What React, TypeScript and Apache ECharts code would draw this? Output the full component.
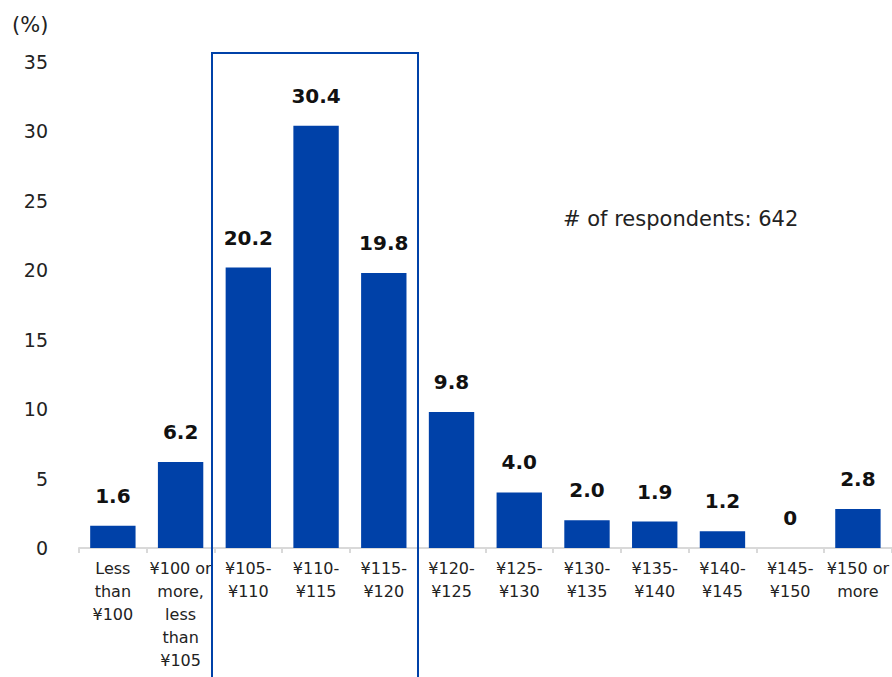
import React, { useEffect, useRef } from "react";
import * as echarts from "echarts";

const categories = [
  "Less\nthan\n¥100",
  "¥100 or\nmore,\nless\nthan\n¥105",
  "¥105-\n¥110",
  "¥110-\n¥115",
  "¥115-\n¥120",
  "¥120-\n¥125",
  "¥125-\n¥130",
  "¥130-\n¥135",
  "¥135-\n¥140",
  "¥140-\n¥145",
  "¥145-\n¥150",
  "¥150 or\nmore",
];
const values = [1.6, 6.2, 20.2, 30.4, 19.8, 9.8, 4.0, 2.0, 1.9, 1.2, 0, 2.8];
const valueLabels = ["1.6", "6.2", "20.2", "30.4", "19.8", "9.8", "4.0", "2.0", "1.9", "1.2", "0", "2.8"];
const yTicks = [0, 5, 10, 15, 20, 25, 30, 35];
const unitLabel = "(%)";
const noteText = "# of respondents: 642";

const BLUE = "#0041A8";
const FONT = "DejaVu Sans, Verdana, sans-serif";

export default function App() {
  const ref = useRef<HTMLDivElement>(null);
  useEffect(() => {
    if (!ref.current) return;
    const chart = echarts.init(ref.current, null, { renderer: "svg" });
    chart.setOption({
      animation: false,
      textStyle: { fontFamily: FONT },
      grid: { left: 79, right: 0, top: 62, bottom: 129, containLabel: false },
      xAxis: {
        type: "category",
        data: categories,
        axisLine: { lineStyle: { color: "#d9d9d9", width: 2 } },
        axisTick: { show: true, length: 5, lineStyle: { color: "#d9d9d9", width: 2 } },
        axisLabel: {
          interval: 0,
          color: "#222",
          fontSize: 16,
          lineHeight: 23,
          margin: 9,
          fontFamily: FONT,
        },
      },
      yAxis: {
        type: "value",
        min: yTicks[0],
        max: yTicks[yTicks.length - 1],
        interval: 5,
        splitLine: { show: false },
        axisLine: { show: false },
        axisTick: { show: false },
        axisLabel: { color: "#222", fontSize: 19, margin: 31, fontFamily: FONT },
      },
      series: [
        {
          type: "bar",
          data: values,
          barCategoryGap: "33%",
          itemStyle: { color: BLUE },
          label: {
            show: true,
            position: "top",
            distance: 20,
            fontSize: 20,
            fontWeight: "bold",
            color: "#111",
            fontFamily: FONT,
            formatter: (p: any) => valueLabels[p.dataIndex],
          },
        },
      ],
      graphic: [
        {
          type: "text",
          left: 12,
          top: 14,
          style: { text: unitLabel, fontSize: 21, fill: "#222", fontFamily: FONT },
        },
        {
          type: "text",
          left: 563,
          top: 208,
          style: { text: noteText, fontSize: 21, fill: "#222", fontFamily: FONT },
        },
        {
          type: "rect",
          shape: { x: 212, y: 53, width: 206, height: 640 },
          style: { fill: "none", stroke: BLUE, lineWidth: 2 },
          z: 100,
        },
      ],
    });
    return () => chart.dispose();
  }, []);
  return (
    <div
      ref={ref}
      style={{ position: "fixed", left: 0, top: 0, width: 892, height: 677, background: "#fff" }}
    />
  );
}
